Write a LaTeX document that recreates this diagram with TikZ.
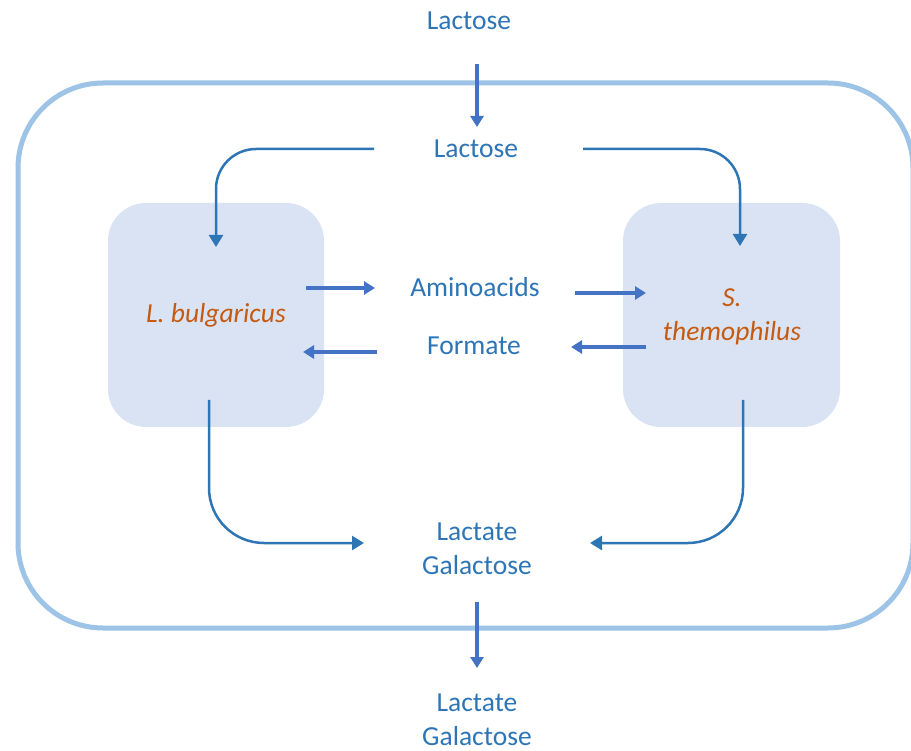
\documentclass[tikz,border=0pt]{standalone}
\usepackage{fontspec}
\setmainfont{Carlito}
\usetikzlibrary{arrows.meta}
\definecolor{txtblue}{HTML}{2E75B6}
\definecolor{orgtxt}{HTML}{C55A11}
\definecolor{arrblue}{HTML}{4472C4}
\definecolor{cellfill}{HTML}{DAE3F3}
\definecolor{membrane}{HTML}{9DC3E6}
\begin{document}
\begin{tikzpicture}[x=1pt,y=-1pt,
  lbl/.style={text=txtblue, font=\fontsize{27.5}{34}\selectfont, align=center, inner sep=0pt, anchor=base},
  species/.style={text=orgtxt, font=\fontsize{27.5}{34}\selectfont\itshape, align=center, inner sep=0pt, anchor=base},
  cell/.style={fill=cellfill, rounded corners=38pt},
  flux/.style={draw=arrblue, line width=3.5pt, -{Triangle[width=13pt,length=11pt]}},
  route/.style={draw=txtblue, line width=2.5pt, -{Triangle[width=14pt,length=12pt]}}]
\useasboundingbox (0,0) rectangle (911,751);

% membrane and the two cells
\draw[membrane, line width=5pt, rounded corners=85pt] (18,83) rectangle (913,628);
\path[cell] (108,203) rectangle (324,427);
\path[cell] (623,203) rectangle (840,427);

% labels (two-line labels sit on the baseline of their last line)
\node[lbl] (lacext) at (469,30) {Lactose};
\node[lbl] (lacint) at (476,158) {Lactose};
\node[lbl] (amino) at (475,297) {Aminoacids};
\node[lbl] (form) at (474,355) {Formate};
\node[lbl] (prodint) at (477,574) {Lactate\\Galactose};
\node[lbl] (prodext) at (477,745) {Lactate\\Galactose};
\node[species] (lb) at (216,323) {L. bulgaricus};
\node[species] (st) at (732,341) {S.\\themophilus};

% connector end points
\coordinate (inA) at (477,64);   \coordinate (inB) at (477,127);
\coordinate (outA) at (477,602); \coordinate (outB) at (477,668);
\coordinate (tlA) at (374,149);  \coordinate (tlB) at (216,247);
\coordinate (trA) at (583,149);  \coordinate (trB) at (740,246);
\coordinate (blA) at (209,400);  \coordinate (blB) at (364,543);
\coordinate (brA) at (743,400);  \coordinate (brB) at (590,543);
\coordinate (aLA) at (306,288);  \coordinate (aLB) at (375,288);
\coordinate (aRA) at (575,293);  \coordinate (aRB) at (646,293);
\coordinate (fLA) at (377,352);  \coordinate (fLB) at (303,352);
\coordinate (fRA) at (646,347);  \coordinate (fRB) at (571,347);

% uptake and release across the membrane
\draw[flux] (inA) -- (inB);
\draw[flux] (outA) -- (outB);

% exchange between the two species
\draw[flux] (aLA) -- (aLB);
\draw[flux] (aRA) -- (aRB);
\draw[flux] (fLA) -- (fLB);
\draw[flux] (fRA) -- (fRB);

% lactose to each cell, products back out
\draw[route, rounded corners=40pt] (tlA) -| (tlB);
\draw[route, rounded corners=40pt] (trA) -| (trB);
\draw[route, rounded corners=55pt] (blA) |- (blB);
\draw[route, rounded corners=55pt] (brA) |- (brB);
\end{tikzpicture}
\end{document}
